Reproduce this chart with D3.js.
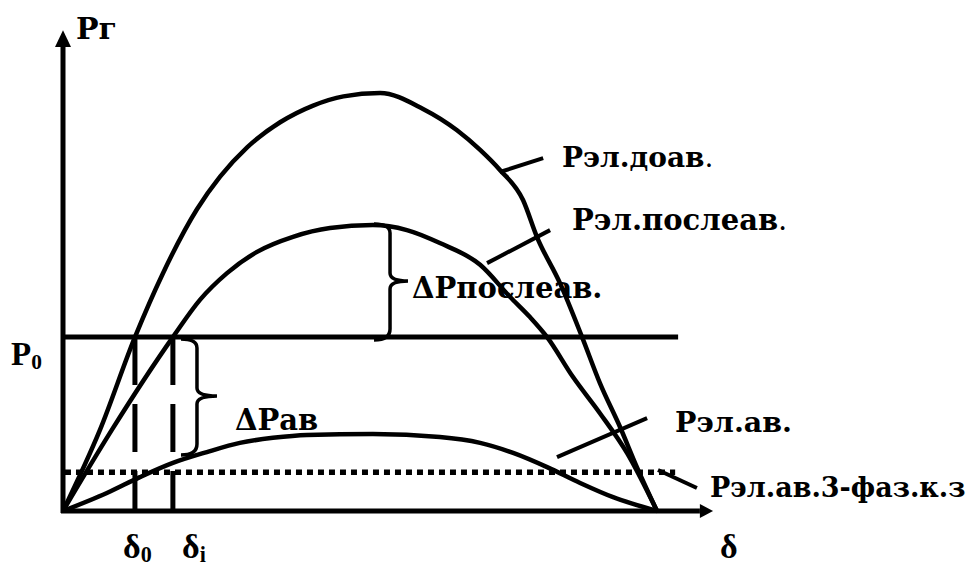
<!DOCTYPE html>
<html>
<head>
<meta charset="utf-8">
<script src="https://cdn.jsdelivr.net/npm/d3@7"></script>
<style>
    body { margin: 0; background: #fff; }
    svg { display: block; }
    .curve { fill: none; stroke: #000; stroke-width: 4.5; }
    .axis { stroke: #000; stroke-width: 5; }
    .leader { stroke: #000; stroke-width: 4; }
    .brace { fill: none; stroke: #000; stroke-width: 3.5; }
</style>
</head>
<body>
<div id="chart"></div>
<script>

// Angle delta (deg) and electrical power (relative units).
// Pre-fault power curve
var preFaultDelta = [0, 11.2, 21.8, 30.3, 40.6, 47.6, 55.8, 65.8, 75.8, 85, 96.1, 109.1, 119.4, 126.4, 132.4, 139.4, 143.6, 150.6, 157.3, 162.7, 168.8, 173.9, 180];
var preFaultP     = [0, 0.194, 0.416, 0.569, 0.722, 0.800, 0.870, 0.930, 0.970, 0.992, 1.0, 0.962, 0.911, 0.864, 0.816, 0.744, 0.656, 0.545, 0.416, 0.306, 0.201, 0.105, 0];

// Post-fault power curve
var postFaultDelta = [0, 14.8, 33.3, 41.5, 49.7, 58.8, 69.7, 80.9, 93.9, 104.2, 114.2, 126.4, 135.5, 141.5, 146.7, 154.5, 162.7, 170.9, 180];
var postFaultP     = [0, 0.194, 0.416, 0.505, 0.569, 0.620, 0.656, 0.677, 0.684, 0.672, 0.641, 0.589, 0.512, 0.464, 0.416, 0.321, 0.234, 0.139, 0];

// Fault power curve
var faultDelta = [0, 13.3, 23.3, 33.3, 43.6, 53.6, 63.6, 73.9, 93.9, 114.2, 126.4, 136.4, 146.7, 156.7, 166.7, 180];
var faultP     = [0, 0.043, 0.081, 0.115, 0.141, 0.163, 0.175, 0.182, 0.184, 0.177, 0.163, 0.139, 0.105, 0.067, 0.033, 0];

// Levels and angles
var p0 = 0.416;          // turbine power P0
var p3phase = 0.093;     // three-phase short-circuit level
var delta0 = 21.8;
var deltaI = 33.3;

function drawChart() {
    var width = 975, height = 567;
    // Liberation Serif here has no Cyrillic, so Russian labels use DejaVu Serif
    var latinFont = '"Liberation Serif", "Times New Roman", serif';
    var cyrFont = '"DejaVu Serif", serif';

    // Set the ranges
    var x = d3.scaleLinear().domain([0, 180]).range([63, 657]);
    var y = d3.scaleLinear().domain([0, 1]).range([511, 93]);

    var svg = d3.select('#chart').append('svg')
        .attr('width', width)
        .attr('height', height);

    var valueline = d3.line()
        .x(function(d) { return x(d[0]); })
        .y(function(d) { return y(d[1]); })
        .curve(d3.curveMonotoneX);

    var zip = function(a, b) { return a.map(function(v, i) { return [v, b[i]]; }); };

    // Horizontal P0 line and dotted 3-phase level
    svg.append('line').attr('class', 'axis')
        .attr('x1', x(0)).attr('x2', x(186.4))
        .attr('y1', y(p0)).attr('y2', y(p0));
    svg.append('line')
        .attr('x1', x(0.6)).attr('x2', x(185.5))
        .attr('y1', y(p3phase)).attr('y2', y(p3phase))
        .attr('stroke', '#000').attr('stroke-width', 5.5)
        .attr('stroke-dasharray', '6,5');

    // Dashed verticals at delta0 and delta_i
    [delta0, deltaI].forEach(function(d) {
        svg.append('line')
            .attr('x1', x(d)).attr('x2', x(d))
            .attr('y1', y(p0)).attr('y2', y(0))
            .attr('stroke', '#000').attr('stroke-width', 5)
            .attr('stroke-dasharray', '48,19');
    });

    // The three curves
    [zip(preFaultDelta, preFaultP), zip(postFaultDelta, postFaultP), zip(faultDelta, faultP)]
        .forEach(function(pts) {
            svg.append('path').attr('class', 'curve').attr('d', valueline(pts));
        });

    // Axes with arrows
    svg.append('line').attr('class', 'axis')
        .attr('x1', x(0)).attr('x2', x(0))
        .attr('y1', y(0) + 2).attr('y2', y(1.11));
    svg.append('line').attr('class', 'axis')
        .attr('x1', x(0) - 2).attr('x2', x(193))
        .attr('y1', y(0)).attr('y2', y(0));
    svg.append('path')
        .attr('d', 'M' + (x(0) - 8) + ',' + y(1.11) + 'L' + x(0) + ',' + y(1.15) + 'L' + (x(0) + 8) + ',' + y(1.11) + 'Z');
    svg.append('path')
        .attr('d', 'M' + x(193) + ',' + (y(0) - 7) + 'L' + x(197) + ',' + y(0) + 'L' + x(193) + ',' + (y(0) + 7) + 'Z');

    // Leader lines from curves to their labels
    var leaders = [
        [[132.4, 0.811], [145.5, 0.844]],
        [[128.5, 0.593], [147.6, 0.672]],
        [[149.7, 0.129], [177.0, 0.222]],
        [[180.3, 0.098], [192.1, 0.055]]
    ];
    leaders.forEach(function(l) {
        svg.append('line').attr('class', 'leader')
            .attr('x1', x(l[0][0])).attr('y1', y(l[0][1]))
            .attr('x2', x(l[1][0])).attr('y2', y(l[1][1]));
    });

    // Curly braces "}" between levels
    var brace = function(d, pTop, pBot, depth) {
        var bx = x(d), y1 = y(pTop), y2 = y(pBot), ym = (y1 + y2) / 2, r = 8, hw = 16;
        return 'M' + (bx - hw) + ',' + (y1 - 1) +
            'Q' + bx + ',' + (y1 - 1) + ' ' + bx + ',' + (y1 + r) +
            'L' + bx + ',' + (ym - r) +
            'Q' + bx + ',' + ym + ' ' + (bx + depth) + ',' + ym +
            'Q' + bx + ',' + ym + ' ' + bx + ',' + (ym + r) +
            'L' + bx + ',' + (y2 - r) +
            'Q' + bx + ',' + (y2 + 3) + ' ' + (bx - hw) + ',' + (y2 + 3);
    };
    svg.append('path').attr('class', 'brace').attr('d', brace(99.1, 0.684, p0, 18));
    svg.append('path').attr('class', 'brace').attr('d', brace(40.6, 0.409, 0.141, 20));

    // Labels
    var label = function(px, py, txt, size, fam, sub) {
        var t = svg.append('text')
            .attr('x', px).attr('y', py)
            .attr('font-family', fam)
            .attr('font-weight', 'bold')
            .attr('font-size', size)
            .text(txt);
        if (sub) {
            t.append('tspan').attr('dy', 4).attr('font-size', size * 0.65).text(sub);
        }
        return t;
    };
    label(76, 39, 'Рг', 30, cyrFont);
    label(11, 365, 'P', 33, latinFont, '0');
    label(123, 558, 'δ', 34, latinFont, '0');
    label(182, 558, 'δ', 34, latinFont, 'i');
    label(720, 558, 'δ', 34, latinFont);

    label(562, 167, 'Рэл.доав', 28, cyrFont).append('tspan').attr('font-weight', 'normal').text('.');
    label(572, 230, 'Рэл.послеав', 29, cyrFont).append('tspan').attr('font-weight', 'normal').text('.');
    label(675, 432, 'Рэл.ав.', 28.5, cyrFont);
    label(710, 497, 'Рэл.ав.3-фаз.к.з', 27, cyrFont);
    label(412, 298, 'ΔРпослеав.', 29, cyrFont);
    label(235, 430, 'ΔРав', 29, cyrFont);
}

drawChart();
</script>
</body>
</html>
